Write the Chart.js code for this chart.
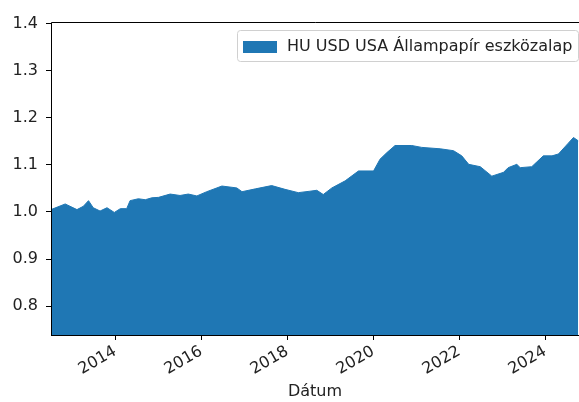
<!DOCTYPE html>
<html lang="hu">
<head>
  <meta charset="utf-8" />
  <title>HU USD USA Állampapír eszközalap</title>
  <script src="https://cdn.jsdelivr.net/npm/chart.js@4.4.4/dist/chart.umd.min.js"></script>
  <style>
    html, body { margin: 0; padding: 0; background: #fff; }
    #wrap { width: 579px; height: 402px; }
  </style>
</head>
<body>
  <div id="wrap"><canvas id="stage" width="579" height="402"></canvas></div>
  <script>
    // árfolyam adatok
    const dates = [
      '2012-07-04', '2012-11-02', '2013-02-10', '2013-04-05', '2013-05-19', '2013-06-28',
      '2013-08-25', '2013-10-23', '2013-12-24', '2014-02-13', '2014-04-08', '2014-05-07',
      '2014-07-16', '2014-09-13', '2014-11-07', '2015-01-04', '2015-04-12', '2015-07-05',
      '2015-09-13', '2015-11-25', '2016-02-17', '2016-06-25', '2016-10-30', '2016-12-13',
      '2017-04-06', '2017-08-22', '2017-12-13', '2018-04-05', '2018-07-12', '2018-09-09',
      '2018-11-03', '2019-01-15', '2019-05-08', '2019-08-29', '2020-01-04', '2020-02-15',
      '2020-02-28', '2020-04-27', '2020-07-05', '2020-11-24', '2021-02-17', '2021-07-24',
      '2021-11-14', '2022-01-23', '2022-03-23', '2022-06-29', '2022-10-05', '2023-01-12',
      '2023-02-21', '2023-05-05', '2023-06-03', '2023-09-09', '2023-12-16', '2024-02-28',
      '2024-04-23', '2024-07-16', '2024-08-29', '2024-10-08'
    ];
    const prices = [
      1.005, 1.017, 1.005, 1.012, 1.024, 1.009,
      1.002, 1.009, 0.999, 1.007, 1.007, 1.024,
      1.028, 1.026, 1.030, 1.031, 1.038, 1.035,
      1.038, 1.034, 1.043, 1.055, 1.051, 1.043,
      1.049, 1.056, 1.048, 1.041, 1.044, 1.046,
      1.037, 1.051, 1.066, 1.087, 1.087, 1.106,
      1.112, 1.126, 1.141, 1.141, 1.137, 1.134,
      1.130, 1.119, 1.101, 1.096, 1.076, 1.084,
      1.094, 1.101, 1.094, 1.096, 1.119, 1.119,
      1.123, 1.146, 1.158, 1.151
    ];
    const xTicks = [2014, 2016, 2018, 2020, 2022, 2024];
    const yTicks = [0.8, 0.9, 1.0, 1.1, 1.2, 1.3, 1.4];
    const seriesLabel = 'HU USD USA Állampapír eszközalap';

    function toYear(s) {
      const d = Date.parse(s + 'T00:00:00Z');
      const y = Number(s.slice(0, 4));
      const a = Date.UTC(y, 0, 1), b = Date.UTC(y + 1, 0, 1);
      return y + (d - a) / (b - a);
    }

    const points = dates.map((d, i) => ({ x: toYear(d), y: prices[i] }));
    const font = { family: 'DejaVu Sans', size: 16 };

    // legend a rajzterületen belül + keret teteje
    const framePlugin = {
      id: 'frame',
      afterDraw(chart) {
        const ctx = chart.ctx;
        const a = chart.chartArea;
        ctx.save();
        ctx.strokeStyle = '#000';
        ctx.lineWidth = 1;
        ctx.beginPath();
        ctx.moveTo(a.left + 0.5, a.bottom);
        ctx.lineTo(a.left + 0.5, a.top + 0.5);
        ctx.lineTo(a.right, a.top + 0.5);
        ctx.moveTo(a.left, a.bottom + 0.5);
        ctx.lineTo(a.right, a.bottom + 0.5);
        ctx.stroke();

        // legend
        const bx = 237, by = 30.5, bw = 341, bh = 31;
        ctx.beginPath();
        ctx.roundRect(bx + 0.5, by, bw, bh, 3);
        ctx.fillStyle = 'rgba(255,255,255,0.8)';
        ctx.fill();
        ctx.strokeStyle = '#d0d0d0';
        ctx.stroke();
        ctx.fillStyle = '#1f77b4';
        ctx.fillRect(243, 41, 34, 12);
        ctx.fillStyle = '#222';
        ctx.font = '16px "DejaVu Sans"';
        ctx.textBaseline = 'middle';
        ctx.textAlign = 'left';
        ctx.fillText(seriesLabel, 287, 47);
        ctx.restore();
      }
    };

    new Chart(document.getElementById('stage'), {
      type: 'line',
      data: {
        datasets: [{
          label: seriesLabel,
          data: points,
          backgroundColor: '#1f77b4',
          borderColor: '#1f77b4',
          borderWidth: 1,
          pointRadius: 0,
          tension: 0,
          fill: 'start'
        }]
      },
      options: {
        responsive: false,
        animation: false,
        layout: { padding: { top: 22, right: 0, left: 0, bottom: 0 } },
        plugins: {
          legend: { display: false },
          tooltip: { enabled: false }
        },
        scales: {
          x: {
            type: 'linear',
            min: toYear('2012-07-04'),
            max: toYear('2024-10-15'),
            afterBuildTicks: s => { s.ticks = xTicks.map(v => ({ value: v })); },
            afterFit: s => { s.height = 67; },
            ticks: {
              color: '#222',
              font: font,
              maxRotation: 30,
              minRotation: 30,
              padding: 2,
              callback: v => String(v)
            },
            grid: { drawOnChartArea: false, drawTicks: true, tickLength: 5, color: '#000' },
            border: { display: false },
            title: {
              display: true,
              text: 'Dátum',
              color: '#222',
              font: font,
              padding: { top: 0, bottom: 1 }
            }
          },
          y: {
            min: 0.739,
            max: 1.403,
            afterBuildTicks: s => { s.ticks = yTicks.map(v => ({ value: v })); },
            afterFit: s => { s.width = 51; },
            ticks: {
              color: '#222',
              font: font,
              padding: 8,
              callback: v => v.toFixed(1)
            },
            grid: { drawOnChartArea: false, drawTicks: true, tickLength: 5, color: '#000' },
            border: { display: false }
          }
        }
      },
      plugins: [framePlugin]
    });
  </script>
</body>
</html>
